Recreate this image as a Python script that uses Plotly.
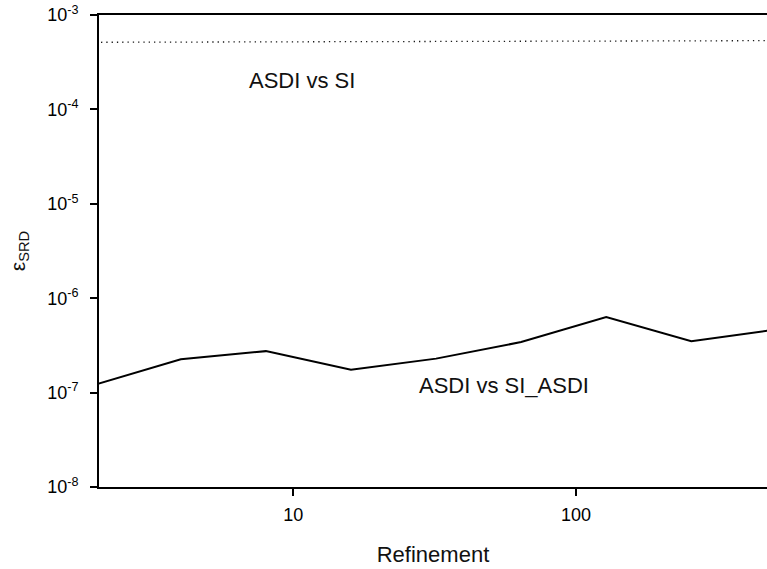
import numpy as np
import plotly.graph_objects as go

# Refinement levels
refinement = [2, 4, 8, 16, 32, 64, 128, 256, 512]

# Scaled relative difference of each comparison
asdi_vs_si = [5.14e-4, 5.16e-4, 5.19e-4, 5.21e-4, 5.24e-4, 5.27e-4, 5.30e-4, 5.33e-4, 5.35e-4]
asdi_vs_si_asdi = [1.22e-7, 2.25e-7, 2.75e-7, 1.75e-7, 2.29e-7, 3.43e-7, 6.30e-7, 3.51e-7, 4.65e-7]

# Axis ticks
x_tickvals = [10, 100]
x_ticktext = ["10", "100"]
y_tickvals = [1e-8, 1e-7, 1e-6, 1e-5, 1e-4, 1e-3]
y_ticktext = ["10<sup>-8</sup>", "10<sup>-7</sup>", "10<sup>-6</sup>",
              "10<sup>-5</sup>", "10<sup>-4</sup>", "10<sup>-3</sup>"]

FONT = "Arial, Liberation Sans, sans-serif"

fig = go.Figure()

fig.add_trace(go.Scatter(
    x=refinement, y=asdi_vs_si, mode="lines",
    line=dict(color="#1a1a1a", width=1.3, dash="1.3px,4px"),
    showlegend=False,
))
fig.add_trace(go.Scatter(
    x=refinement, y=asdi_vs_si_asdi, mode="lines",
    line=dict(color="black", width=2),
    showlegend=False,
))

fig.add_annotation(
    text="ASDI vs SI", xref="paper", yref="paper",
    x=0.221, y=0.861, xanchor="left", yanchor="middle",
    showarrow=False, font=dict(family=FONT, size=22, color="#111111"),
)
fig.add_annotation(
    text="ASDI vs SI_ASDI", xref="paper", yref="paper",
    x=0.4755, y=0.2146, xanchor="left", yanchor="middle",
    showarrow=False, font=dict(family=FONT, size=22, color="#111111"),
)

fig.update_xaxes(
    type="log", range=[0.3127, 2.676],
    tickmode="array", tickvals=x_tickvals, ticktext=x_ticktext,
    ticks="outside", ticklen=7, tickwidth=2, tickcolor="black",
    showline=True, linecolor="black", linewidth=2, mirror=True,
    showgrid=False, zeroline=False,
    tickfont=dict(family=FONT, size=18, color="black"),
    ticklabelstandoff=3,
    title=dict(text="Refinement", font=dict(family=FONT, size=22, color="#111111"), standoff=23),
)
fig.update_yaxes(
    type="log", range=[-8, -3],
    tickmode="array", tickvals=y_tickvals, ticktext=y_ticktext,
    ticks="outside", ticklen=7, tickwidth=2, tickcolor="black",
    showline=True, linecolor="black", linewidth=2, mirror=False,
    showgrid=False, zeroline=False,
    tickfont=dict(family=FONT, size=18, color="black"),
    ticklabelstandoff=8,
    title=dict(text="ε<sub>SRD</sub>", font=dict(family=FONT, size=21, color="#111111"), standoff=16),
)

fig.update_layout(
    width=767, height=569,
    margin=dict(l=99, r=0, t=15, b=82, autoexpand=False),
    paper_bgcolor="white", plot_bgcolor="white",
)

fig.write_html("out.html")
